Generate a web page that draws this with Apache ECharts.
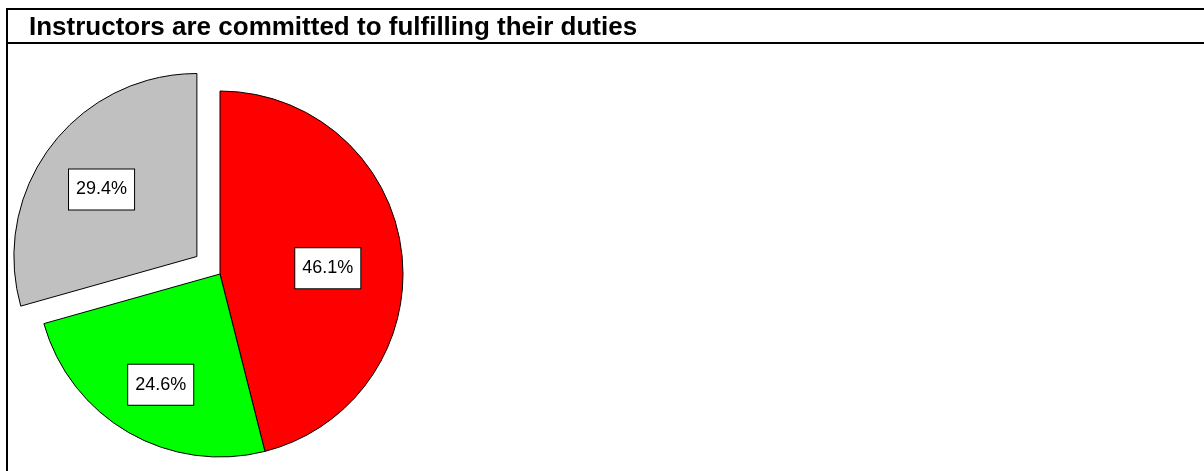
<!DOCTYPE html>
<html>
<head>
<meta charset="utf-8">
<script src="https://cdn.jsdelivr.net/npm/echarts@6/dist/echarts.min.js"></script>
<style>
  html, body { margin: 0; padding: 0; background: #fff; }
  #chart { width: 1204px; height: 471px; }
</style>
</head>
<body>
<div id="chart"></div>
<script>
var chartTitle = 'Instructors are committed to fulfilling their duties';
var sliceNames = ['A', 'B', 'C'];
var sliceValues = [46.1, 24.6, 29.4];
var sliceColors = ['#ff0000', '#00ff00', '#c0c0c0'];
var explodedSlice = 2;
// nudges so the label boxes sit a bit further out, like the original
var labelOffsets = [[14, 6], [-12, 29], [-20, -10]];

var chartDom = document.getElementById('chart');
var myChart = echarts.init(chartDom);
var option;

var pieData = sliceValues.map(function (v, i) {
  return {
    name: sliceNames[i],
    value: v,
    selected: i === explodedSlice,
    itemStyle: { color: sliceColors[i] },
    label: { offset: labelOffsets[i] },
    select: { label: { offset: labelOffsets[i] } }
  };
});

option = {
  animation: false,
  backgroundColor: '#fff',
  title: {
    text: chartTitle,
    left: 24,
    top: 10,
    textStyle: {
      fontFamily: 'Liberation Sans, Arial, sans-serif',
      fontWeight: 'bold',
      fontSize: 26,
      color: '#000'
    }
  },
  graphic: [
    {
      type: 'rect',
      shape: { x: 7, y: 9, width: 1300, height: 600 },
      style: { fill: null, stroke: '#000', lineWidth: 2 },
      silent: true
    },
    {
      type: 'line',
      shape: { x1: 7, y1: 43, x2: 1300, y2: 43 },
      style: { stroke: '#000', lineWidth: 2 },
      silent: true
    }
  ],
  series: [
    {
      type: 'pie',
      center: [220, 274],
      radius: 183,
      startAngle: 90,
      clockwise: true,
      selectedMode: 'single',
      selectedOffset: 29,
      emphasis: { disabled: true },
      itemStyle: { borderColor: '#000', borderWidth: 1 },
      label: {
        show: true,
        position: 'inside',
        formatter: function (p) { return p.value.toFixed(1) + '%'; },
        fontFamily: 'Liberation Sans, Arial, sans-serif',
        fontSize: 18,
        color: '#000',
        backgroundColor: '#fff',
        borderColor: '#000',
        borderWidth: 1,
        padding: [11, 7]
      },
      labelLine: { show: false },
      data: pieData
    }
  ]
};

option && myChart.setOption(option);
</script>
</body>
</html>
